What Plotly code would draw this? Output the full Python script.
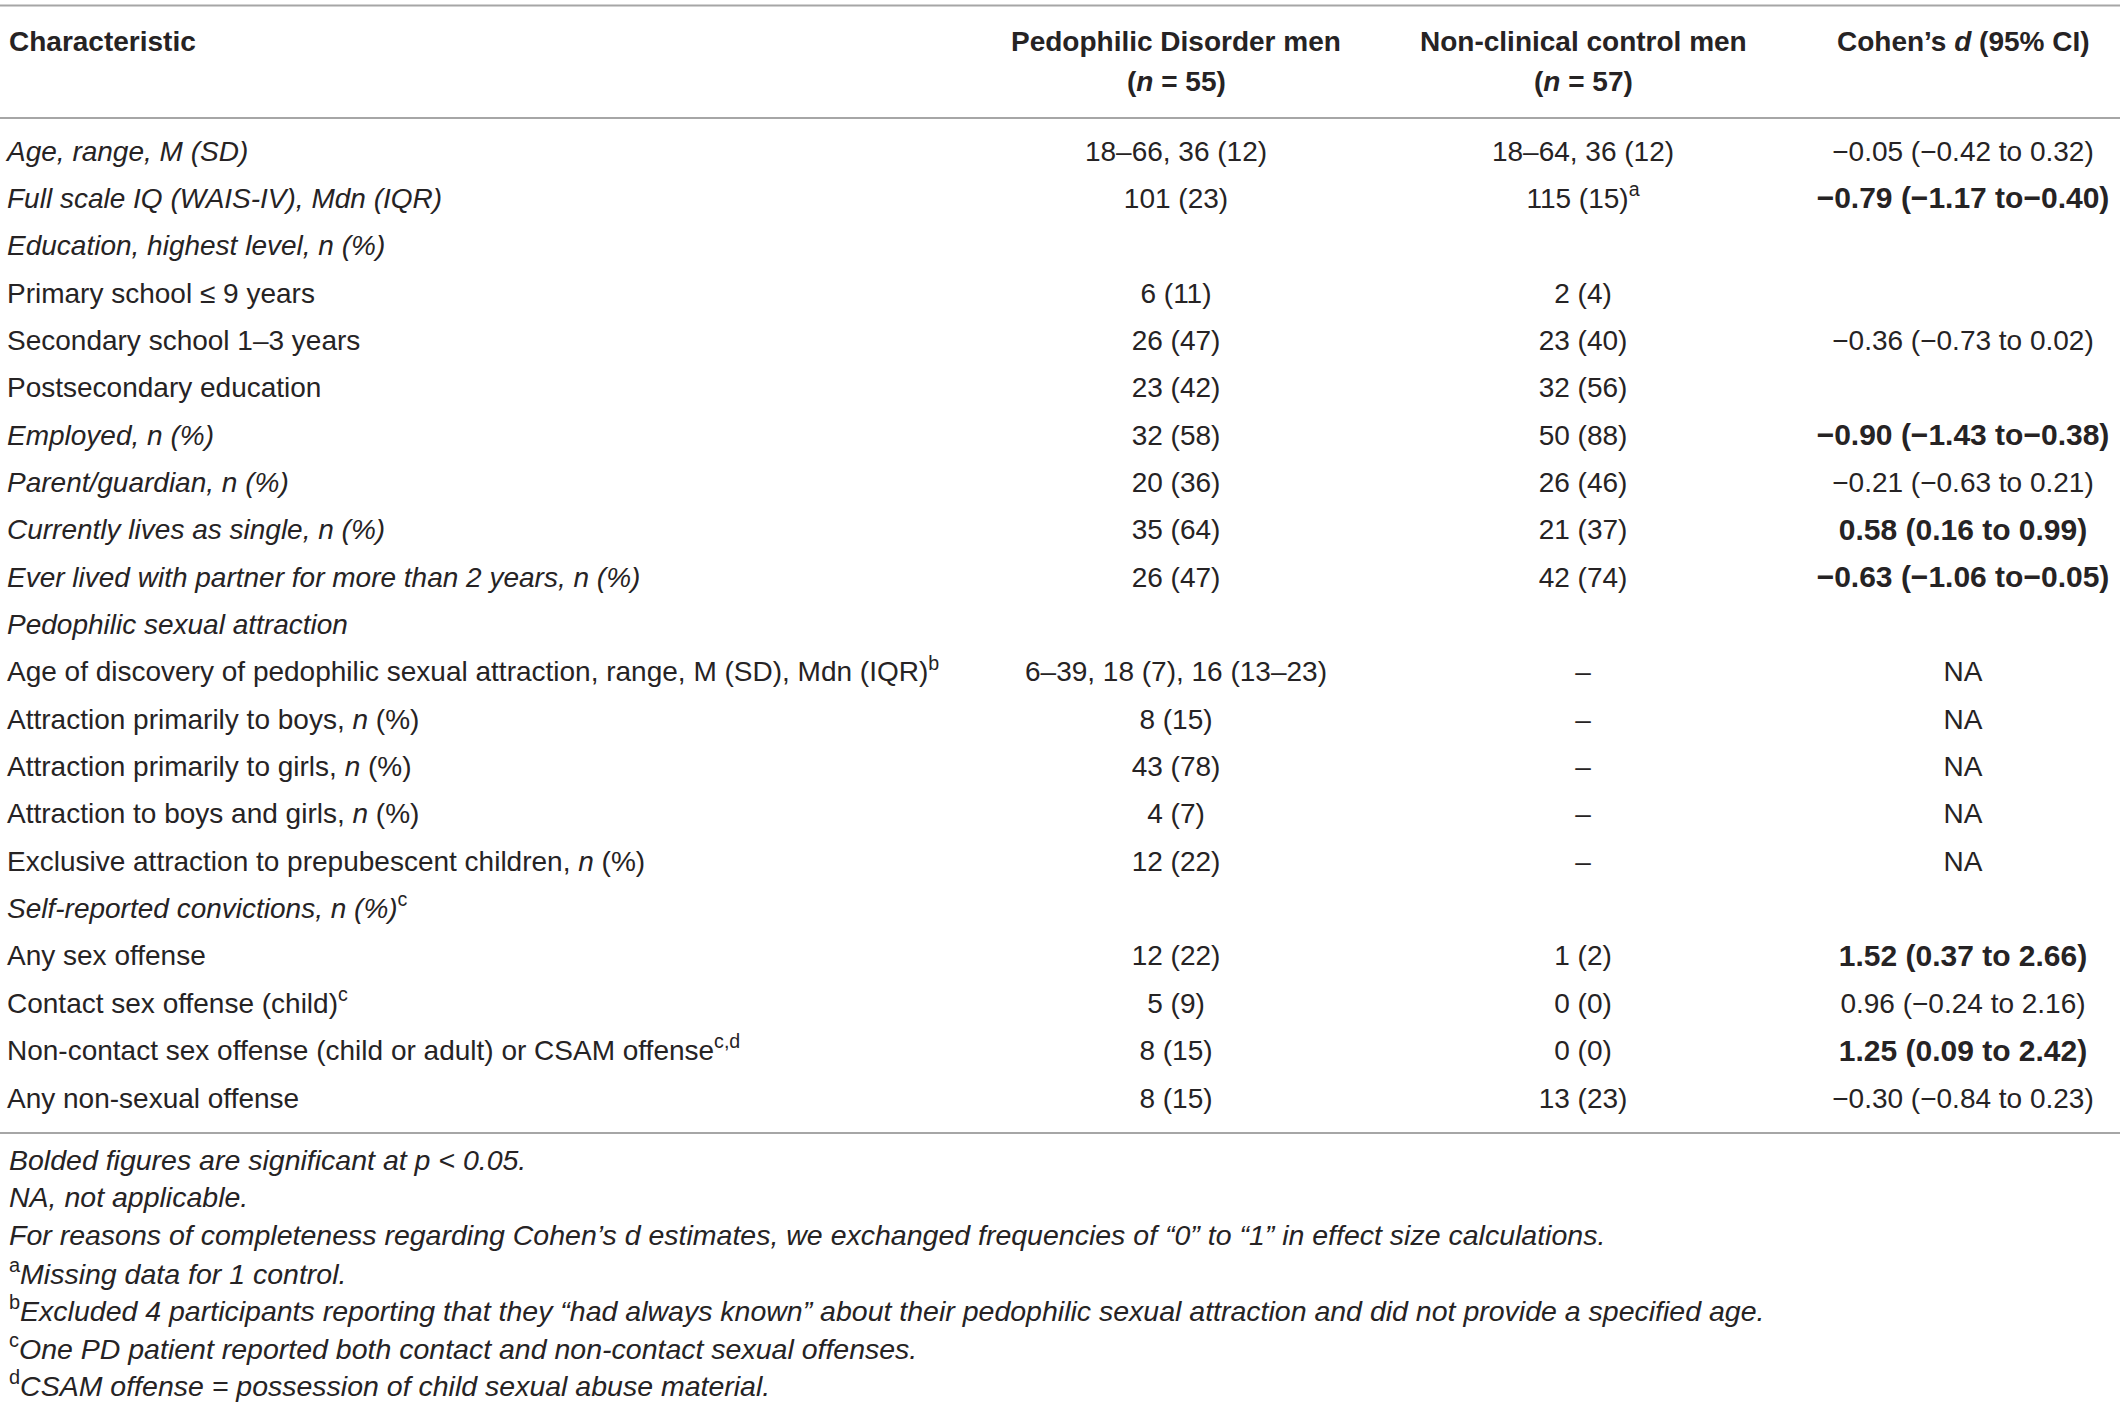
import plotly.graph_objects as go

# ---------------- data ----------------
characteristics = [
    "<i>Age, range, M (SD)</i>",
    "<i>Full scale IQ (WAIS-IV), Mdn (IQR)</i>",
    "<i>Education, highest level, n (%)</i>",
    "Primary school ≤ 9 years",
    "Secondary school 1–3 years",
    "Postsecondary education",
    "<i>Employed, n (%)</i>",
    "<i>Parent/guardian, n (%)</i>",
    "<i>Currently lives as single, n (%)</i>",
    "<i>Ever lived with partner for more than 2 years, n (%)</i>",
    "<i>Pedophilic sexual attraction</i>",
    "Age of discovery of pedophilic sexual attraction, range, M (SD), Mdn (IQR)<sup>b</sup>",
    "Attraction primarily to boys, <i>n</i> (%)",
    "Attraction primarily to girls, <i>n</i> (%)",
    "Attraction to boys and girls, <i>n</i> (%)",
    "Exclusive attraction to prepubescent children, <i>n</i> (%)",
    "<i>Self-reported convictions, n (%)</i><sup>c</sup>",
    "Any sex offense",
    "Contact sex offense (child)<sup>c</sup>",
    "Non-contact sex offense (child or adult) or CSAM offense<sup>c,d</sup>",
    "Any non-sexual offense",
]
pd_men = [
    "18–66, 36 (12)", "101 (23)", "", "6 (11)", "26 (47)", "23 (42)", "32 (58)",
    "20 (36)", "35 (64)", "26 (47)", "", "6–39, 18 (7), 16 (13–23)", "8 (15)",
    "43 (78)", "4 (7)", "12 (22)", "", "12 (22)", "5 (9)", "8 (15)", "8 (15)",
]
control_men = [
    "18–64, 36 (12)", "115 (15)<sup>a</sup>", "", "2 (4)", "23 (40)", "32 (56)",
    "50 (88)", "26 (46)", "21 (37)", "42 (74)", "", "–", "–", "–", "–", "–", "",
    "1 (2)", "0 (0)", "0 (0)", "13 (23)",
]
cohens_d = [
    "−0.05 (−0.42 to 0.32)", "<b>−0.79 (−1.17 to−0.40)</b>", "", "",
    "−0.36 (−0.73 to 0.02)", "", "<b>−0.90 (−1.43 to−0.38)</b>",
    "−0.21 (−0.63 to 0.21)", "<b>0.58 (0.16 to 0.99)</b>",
    "<b>−0.63 (−1.06 to−0.05)</b>", "", "NA", "NA", "NA", "NA", "NA", "",
    "<b>1.52 (0.37 to 2.66)</b>", "0.96 (−0.24 to 2.16)",
    "<b>1.25 (0.09 to 2.42)</b>", "−0.30 (−0.84 to 0.23)",
]
header_line1 = ["<b>Characteristic</b>", "<b>Pedophilic Disorder men</b>",
                "<b>Non-clinical control men</b>", "<b>Cohen’s <i>d</i> (95% CI)</b>"]
header_line2 = ["", "<b>(<i>n</i> = 55)</b>", "<b>(<i>n</i> = 57)</b>", ""]
footnotes = [
    "<i>Bolded figures are significant at p < 0.05.</i>",
    "<i>NA, not applicable.</i>",
    "<i>For reasons of completeness regarding Cohen’s d estimates, we exchanged frequencies of “0” to “1” in effect size calculations.</i>",
    "<sup>a</sup><i>Missing data for 1 control.</i>",
    "<sup>b</sup><i>Excluded 4 participants reporting that they “had always known” about their pedophilic sexual attraction and did not provide a specified age.</i>",
    "<sup>c</sup><i>One PD patient reported both contact and non-contact sexual offenses.</i>",
    "<sup>d</sup><i>CSAM offense = possession of child sexual abuse material.</i>",
]

# ---------------- layout constants ----------------
W, H = 2120, 1407
FONT = "Liberation Sans"
FS = 28
FS_BOLD = 30
FS_FOOT = 28.5
TXT = "#262324"
LINE = "#a6a6a6"
COL_X = [7, 1176, 1583, 1963]
ROW0, PITCH = 153.5, 47.35
HEAD_Y = [41, 81]
LINES_Y = [5.5, 118, 1133]
FOOT0, FOOT_PITCH = 1160, 37.3

rows = list(range(len(characteristics)))
row_y = [ROW0 + i * PITCH for i in rows]

fig = go.Figure()
columns = [characteristics, pd_men, control_men, cohens_d]
for ci, col in enumerate(columns):
    sizes = [FS_BOLD if s.startswith("<b>") else FS for s in col]
    fig.add_trace(go.Scatter(
        x=[COL_X[ci]] * len(col), y=row_y, text=col, mode="text",
        textposition="middle right" if ci == 0 else "middle center",
        textfont=dict(family=FONT, size=sizes, color=TXT),
        hoverinfo="skip", showlegend=False,
    ))

annotations = []
for ci in range(4):
    for li, txts in enumerate([header_line1, header_line2]):
        if txts[ci]:
            annotations.append(dict(
                x=COL_X[ci], y=HEAD_Y[li], xref="x", yref="y", text=txts[ci],
                showarrow=False, xanchor="left" if ci == 0 else "center",
                yanchor="middle", font=dict(family=FONT, size=FS, color=TXT)))
for fi, t in enumerate(footnotes):
    annotations.append(dict(
        x=COL_X[0], y=FOOT0 + fi * FOOT_PITCH, xref="x", yref="y", text=t,
        showarrow=False, xanchor="left", yanchor="middle",
        font=dict(family=FONT, size=FS_FOOT, color=TXT)))

shapes = [dict(type="line", xref="x", yref="y", x0=0, x1=W, y0=y, y1=y,
               line=dict(color=LINE, width=2)) for y in LINES_Y]

fig.update_layout(
    width=W, height=H, margin=dict(l=0, r=0, t=0, b=0),
    paper_bgcolor="white", plot_bgcolor="white",
    xaxis=dict(range=[0, W], visible=False, fixedrange=True),
    yaxis=dict(range=[H, 0], visible=False, fixedrange=True),
    annotations=annotations, shapes=shapes,
)
fig.write_html("out.html", config={"displayModeBar": False},
               post_script="document.body.style.margin='0';document.body.style.overflow='hidden';")
